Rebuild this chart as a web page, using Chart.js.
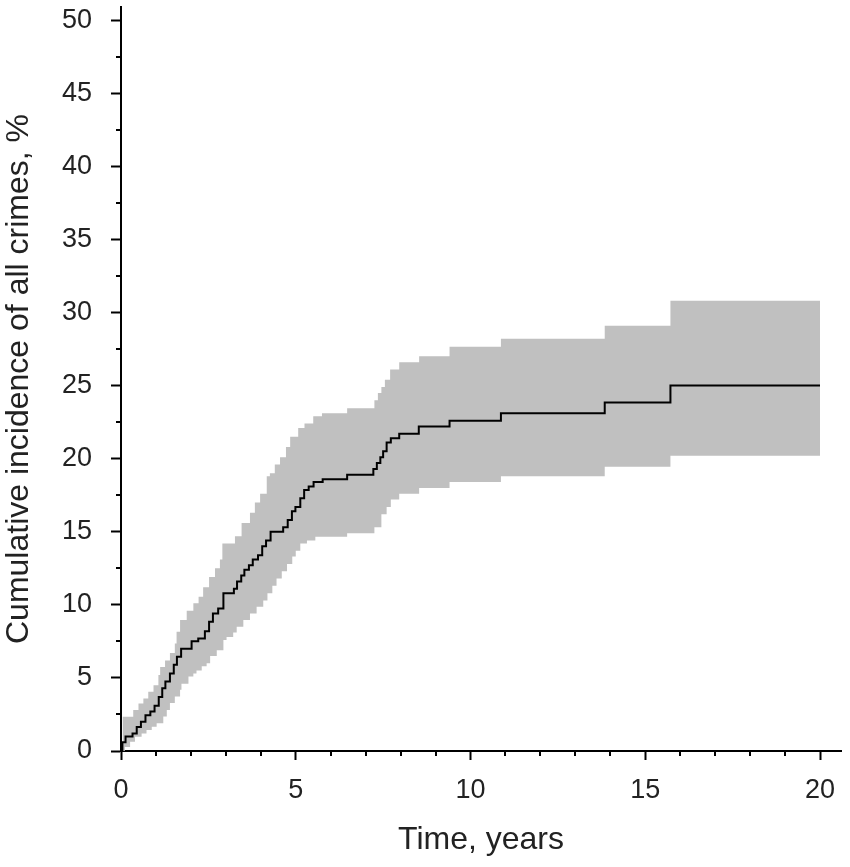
<!DOCTYPE html>
<html>
<head>
<meta charset="utf-8">
<script src="https://cdn.jsdelivr.net/npm/chart.js@4.4.1/dist/chart.umd.min.js"></script>
<style>
  html, body { margin: 0; padding: 0; background: #fff; }
  #wrap { width: 850px; height: 867px; position: relative; }
</style>
</head>
<body>
<div id="wrap"><canvas id="chart"></canvas></div>
<script>
// cumulative incidence (step curve), years / %
const curveTime = [0, 0.04, 0.13, 0.33, 0.45, 0.57, 0.70, 0.84, 0.96, 1.08, 1.18, 1.27, 1.40, 1.51, 1.60, 1.72,
  2.02, 2.21, 2.40, 2.52, 2.63, 2.78, 2.93, 3.23, 3.32, 3.44, 3.53, 3.66, 3.77, 3.92, 4.04, 4.15, 4.28,
  4.64, 4.77, 4.89, 4.99, 5.13, 5.24, 5.37, 5.51, 5.77, 6.47, 7.22, 7.32, 7.42, 7.50, 7.60, 7.72, 7.96,
  8.52, 9.40, 10.87, 13.84, 15.72, 20];
const curveValue = [0, 0.6, 1.0, 1.2, 1.65, 2.0, 2.45, 2.7, 3.1, 3.7, 4.3, 4.75, 5.3, 5.9, 6.45, 7.0,
  7.5, 7.7, 8.2, 8.85, 9.4, 9.75, 10.8, 11.1, 11.6, 12.0, 12.4, 12.7, 13.1, 13.4, 14.0, 14.4, 15.0,
  15.3, 15.8, 16.4, 16.7, 17.3, 17.85, 18.1, 18.4, 18.6, 18.9, 19.3, 19.7, 20.1, 20.5, 21.1, 21.4, 21.7,
  22.2, 22.6, 23.1, 23.85, 25.0, 25.0];

// upper confidence limit
const upperTime = [0, 0.05, 0.35, 0.5, 0.64, 0.78, 0.93, 1.07, 1.12, 1.26, 1.40, 1.54, 1.59, 1.69, 1.88,
  2.07, 2.22, 2.35, 2.52, 2.69, 2.83, 2.90, 3.26, 3.45, 3.69, 3.83, 3.98, 4.17, 4.26, 4.40, 4.55, 4.72,
  4.84, 5.07, 5.25, 5.50, 5.75, 6.47, 7.25, 7.35, 7.45, 7.55, 7.70, 7.96, 8.53, 9.40, 10.87, 13.84, 15.72, 20];
const upperValue = [0, 2.35, 2.8, 3.25, 3.6, 4.05, 4.5, 5.2, 5.75, 6.2, 6.7, 7.35, 8.15, 8.96, 9.6,
  10.1, 10.55, 11.2, 11.9, 12.5, 13.1, 14.2, 14.7, 15.6, 16.3, 17.0, 17.6, 18.8, 19.0, 19.6, 20.1, 20.8,
  21.5, 22.1, 22.4, 22.9, 23.1, 23.45, 24.0, 24.5, 24.9, 25.4, 26.1, 26.6, 27.0, 27.65, 28.2, 29.1, 30.8, 30.8];

// lower confidence limit
const lowerTime = [0, 0.11, 0.26, 0.40, 0.59, 0.73, 0.88, 1.02, 1.21, 1.31, 1.40, 1.54, 1.69, 1.73, 1.93,
  2.07, 2.16, 2.31, 2.45, 2.55, 2.74, 2.93, 3.02, 3.21, 3.31, 3.50, 3.69, 3.88, 4.07, 4.19, 4.33, 4.45,
  4.60, 4.75, 4.90, 5.00, 5.13, 5.32, 5.56, 6.47, 7.25, 7.45, 7.60, 7.72, 7.96, 8.53, 9.40, 10.87, 13.84, 15.72, 20];
const lowerValue = [0, 0.27, 0.63, 0.97, 1.2, 1.43, 1.66, 1.9, 2.36, 2.8, 3.28, 3.73, 4.19, 4.6, 5.1,
  5.3, 5.5, 5.8, 6.0, 6.5, 6.9, 7.6, 7.8, 8.1, 8.5, 8.96, 9.4, 9.87, 10.3, 10.8, 11.3, 11.8,
  12.3, 12.8, 13.3, 13.7, 14.2, 14.4, 14.65, 14.9, 15.3, 16.2, 16.7, 17.2, 17.6, 18.0, 18.4, 18.8, 19.45, 20.2, 20.2];

const xTicksMajor = 5, xTicksMinor = 1;
const yTicksMajor = 5, yTicksMinor = 2.5;

const toPoints = (xs, ys) => xs.map((x, i) => ({ x: x, y: ys[i] }));

const fontFamily = 'Arial, "Liberation Sans", sans-serif';

// short ticks between the labelled ones
const minorTicks = {
  id: 'minorTicks',
  afterDraw(chart) {
    const { ctx, scales: { x, y } } = chart;
    ctx.save();
    ctx.strokeStyle = '#000';
    ctx.lineWidth = 2;
    ctx.beginPath();
    for (let v = 0; v <= 20; v += xTicksMinor) {
      if (v % xTicksMajor === 0) continue;
      const px = Math.round(x.getPixelForValue(v));
      ctx.moveTo(px, y.bottom);
      ctx.lineTo(px, y.bottom + 5);
    }
    for (let v = 0; v <= 50; v += yTicksMinor) {
      if (v % yTicksMajor === 0) continue;
      const py = Math.round(y.getPixelForValue(v));
      ctx.moveTo(x.left, py);
      ctx.lineTo(x.left - 5, py);
    }
    ctx.stroke();
    ctx.restore();
  }
};

new Chart(document.getElementById('chart'), {
  type: 'line',
  plugins: [minorTicks],
  data: {
    datasets: [
      {
        label: 'upper',
        data: toPoints(upperTime, upperValue),
        stepped: 'before',
        borderWidth: 0,
        borderColor: 'rgba(0,0,0,0)',
        backgroundColor: '#c0c0c0',
        pointRadius: 0,
        fill: '+1',
        order: 2
      },
      {
        label: 'lower',
        data: toPoints(lowerTime, lowerValue),
        stepped: 'before',
        borderWidth: 0,
        borderColor: 'rgba(0,0,0,0)',
        pointRadius: 0,
        fill: false,
        order: 2
      },
      {
        label: 'incidence',
        data: toPoints(curveTime, curveValue),
        stepped: 'before',
        borderWidth: 2,
        borderColor: '#000',
        pointRadius: 0,
        fill: false,
        order: 1
      }
    ]
  },
  options: {
    responsive: true,
    maintainAspectRatio: false,
    animation: false,
    layout: { padding: { top: 7, right: 9, left: 0, bottom: 0 } },
    plugins: {
      legend: { display: false },
      tooltip: { enabled: false }
    },
    scales: {
      x: {
        type: 'linear',
        min: 0,
        max: 20.6,
        afterFit: (s) => { s.height = 116; s.paddingLeft = 0; s.paddingRight = 0; },
        ticks: {
          stepSize: xTicksMajor,
          includeBounds: false,
          color: '#222',
          padding: 14,
          font: { family: fontFamily, size: 27 },
          maxRotation: 0
        },
        grid: { drawOnChartArea: false, drawTicks: true, tickLength: 9, tickWidth: 2, tickColor: '#000' },
        border: { color: '#000', width: 2 },
        title: {
          display: true,
          text: 'Time, years',
          color: '#222',
          font: { family: fontFamily, size: 32 },
          padding: { top: 0, bottom: 8 }
        }
      },
      y: {
        min: 0,
        max: 50.9,
        afterFit: (s) => { s.width = 121; s.paddingTop = 0; s.paddingBottom = 0; },
        ticks: {
          stepSize: yTicksMajor,
          includeBounds: false,
          color: '#222',
          padding: 19,
          font: { family: fontFamily, size: 27 }
        },
        grid: { drawOnChartArea: false, drawTicks: true, tickLength: 10, tickWidth: 2, tickColor: '#000' },
        border: { color: '#000', width: 2 },
        title: {
          display: true,
          text: 'Cumulative incidence of all crimes, %',
          color: '#222',
          font: { family: fontFamily, size: 32 },
          padding: { top: 0, bottom: 0 }
        }
      }
    }
  }
});
</script>
</body>
</html>
